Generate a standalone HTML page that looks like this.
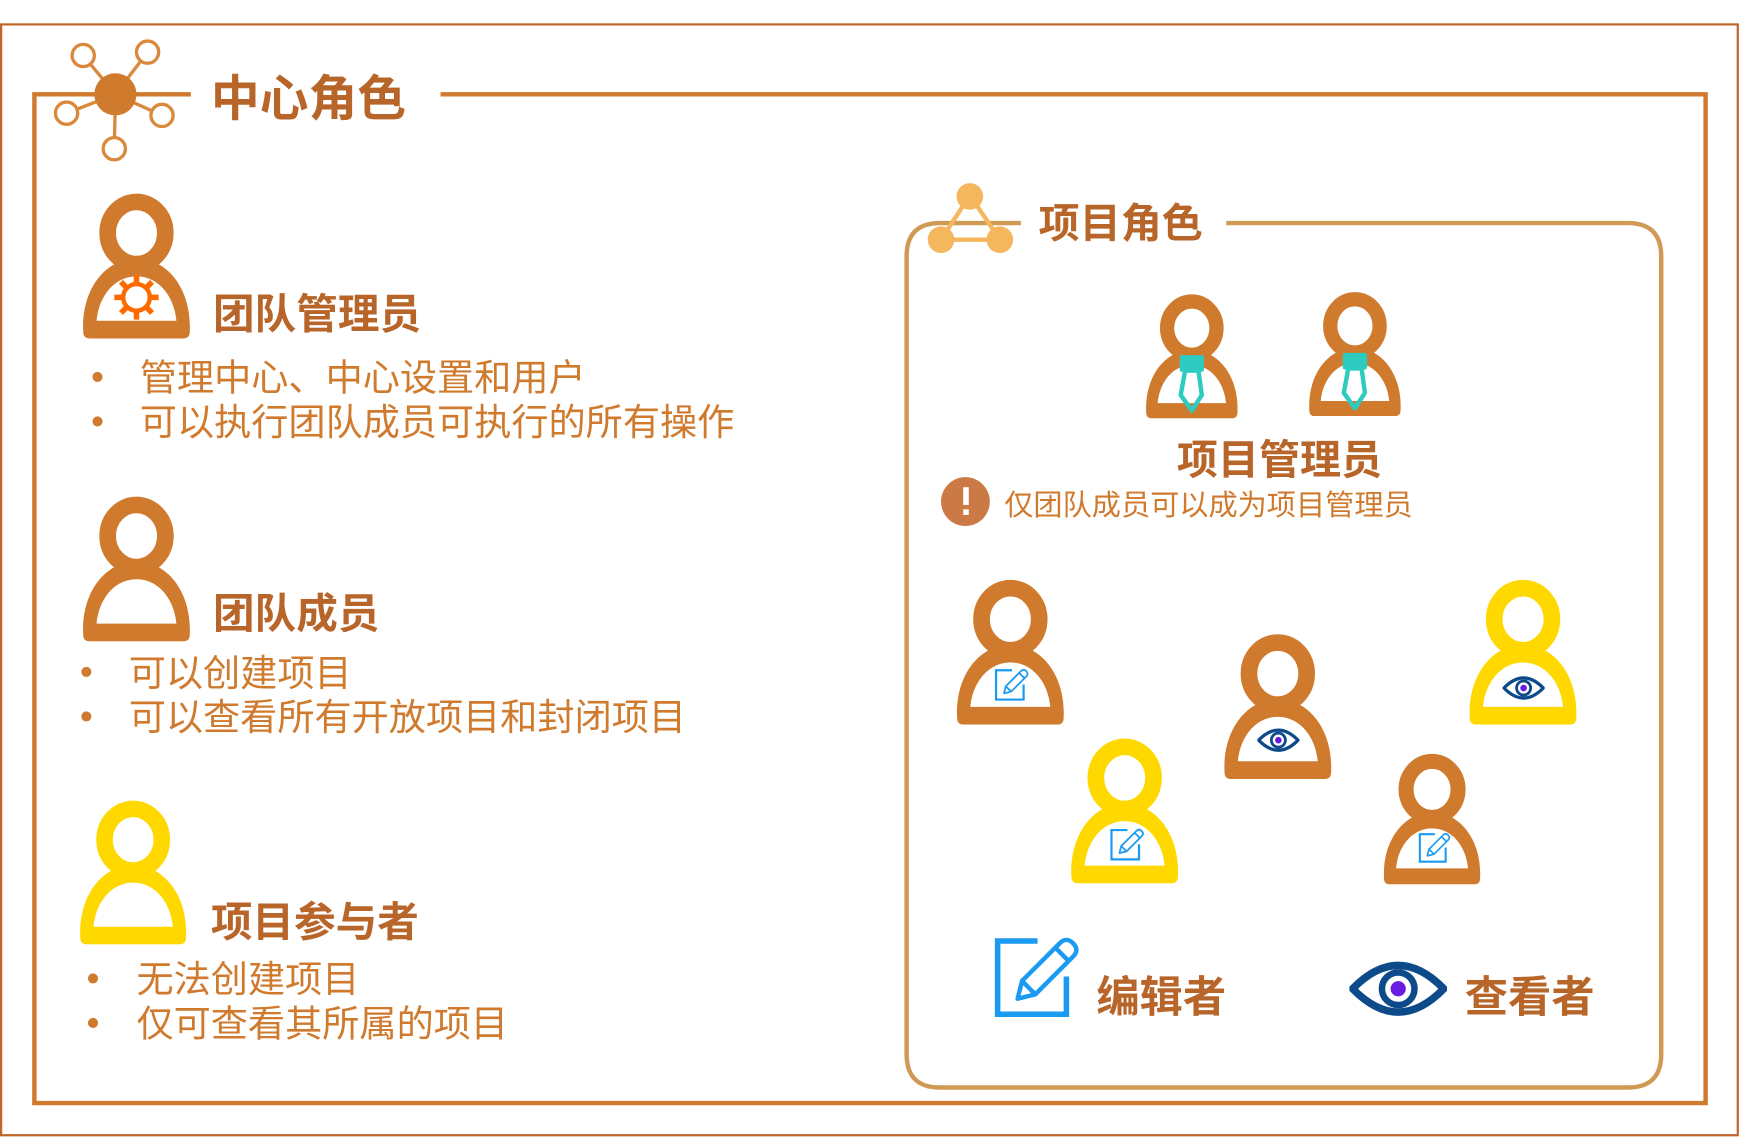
<!DOCTYPE html>
<html><head><meta charset="utf-8"><style>
html,body{margin:0;padding:0;background:#fff;}
svg{display:block;}
text{font-family:"Liberation Sans","Noto Sans CJK SC",sans-serif;}
</style></head><body>
<svg width="1740" height="1137" viewBox="0 0 1568 1024.6" preserveAspectRatio="none" xmlns="http://www.w3.org/2000/svg">
<defs>
<symbol id="p" viewBox="0 0 100 132">
<ellipse cx="50" cy="37" rx="26" ry="28" fill="none" stroke="currentColor" stroke-width="15"/>
<path fill-rule="evenodd" fill="currentColor" d="M2,126 C0,88 22,60 50,60 C78,60 100,88 98,126 Q98,132 92,132 L8,132 Q2,132 2,126Z M14,116 C16,94 30,76 50,76 C70,76 84,94 86,116Z"/>
</symbol>
<symbol id="pen" viewBox="0 0 80 80">
<path d="M40,10 H4 V76 H66 V42" fill="none" stroke="currentColor" stroke-width="5"/>
<path d="M22,62 L26,46 L60,12 Q66,6 72,12 Q78,18 72,24 L38,58 Z M26,46 L38,58 M56,16 L68,28" fill="none" stroke="currentColor" stroke-width="4" stroke-linejoin="round"/>
</symbol>
<symbol id="eye" viewBox="0 0 90 50">
<path d="M3,25 Q45,-18 87,25 Q45,68 3,25Z" fill="none" stroke="#0d4a8a" stroke-width="7"/>
<circle cx="45" cy="25" r="15" fill="none" stroke="#0d4a8a" stroke-width="6"/>
<circle cx="45" cy="25" r="7" fill="#6a1be0"/>
</symbol>
</defs>
<rect x="1" y="22" width="1565" height="1001" fill="none" stroke="#c0652a" stroke-width="2"/>
<path d="M172,85 H31 V994 H1537 V85 H397" fill="none" stroke="#d07a2e" stroke-width="4"/>
<g stroke="#d9883c" stroke-width="3" fill="#fff">
<line x1="104" y1="85" x2="75" y2="50"/><line x1="104" y1="85" x2="133" y2="47"/><line x1="104" y1="85" x2="60" y2="102"/><line x1="104" y1="85" x2="146" y2="104"/><line x1="104" y1="85" x2="103" y2="134"/>
<circle cx="75" cy="50" r="10"/><circle cx="133" cy="47" r="10"/><circle cx="60" cy="102" r="10"/><circle cx="146" cy="104" r="10"/><circle cx="103" cy="134" r="10"/>
</g>
<circle cx="104" cy="85" r="19" fill="#d07a2e"/>
<text x="190" y="104" font-size="44" font-weight="bold" fill="#b8652a">中心角色</text>

<use href="#p" x="73" y="173" width="100" height="132" color="#d07a2e"/>
<g transform="translate(123,268)">
<g stroke="#ff6a00" stroke-width="5">
<line x1="0" y1="-20" x2="0" y2="20"/><line x1="-20" y1="0" x2="20" y2="0"/><line x1="-14" y1="-14" x2="14" y2="14"/><line x1="-14" y1="14" x2="14" y2="-14"/></g>
<circle r="12" fill="#fff" stroke="#ff6a00" stroke-width="4"/>
</g>
<text x="192" y="296" font-size="37.5" font-weight="bold" fill="#b8652a">团队管理员</text>
<g font-size="33.5" fill="#d07a2e">
<text x="82" y="351">•</text><text x="126" y="352">管理中心、中心设置和用户</text>
<text x="82" y="391">•</text><text x="126" y="392">可以执行团队成员可执行的所有操作</text>
</g>

<use href="#p" x="73" y="446" width="100" height="132" color="#d07a2e"/>
<text x="192" y="566" font-size="37.5" font-weight="bold" fill="#b8652a">团队成员</text>
<g font-size="33.5" fill="#d07a2e">
<text x="72" y="617">•</text><text x="116" y="618">可以创建项目</text>
<text x="72" y="657">•</text><text x="116" y="658">可以查看所有开放项目和封闭项目</text>
</g>

<use href="#p" x="70" y="720" width="100" height="131" color="#ffd800"/>
<text x="190" y="844" font-size="37.5" font-weight="bold" fill="#b8652a">项目参与者</text>
<g font-size="33.5" fill="#d07a2e">
<text x="78" y="893">•</text><text x="123" y="894">无法创建项目</text>
<text x="78" y="933">•</text><text x="123" y="934">仅可查看其所属的项目</text>
</g>

<path d="M920,201 H847 Q817,201 817,231 V950 Q817,980 847,980 H1467 Q1497,980 1497,950 V231 Q1497,201 1467,201 H1105" fill="none" stroke="#d09a55" stroke-width="4"/>
<g stroke="#f5b75e" stroke-width="4"><line x1="874" y1="176" x2="848" y2="216"/><line x1="874" y1="176" x2="901" y2="216"/><line x1="848" y1="216" x2="901" y2="216"/></g>
<g fill="#f5b75e"><circle cx="874" cy="177" r="12"/><circle cx="848" cy="216" r="12"/><circle cx="901" cy="216" r="12"/></g>
<text x="936" y="214" font-size="37" font-weight="bold" fill="#b8652a">项目角色</text>

<use href="#p" x="1031" y="264" width="86" height="113" color="#d07a2e"/>
<use href="#p" x="1178" y="262" width="86" height="113" color="#d07a2e"/>
<g fill="none" stroke="#2ecbc0" stroke-width="4" stroke-linejoin="round">
<path d="M1068,334 L1064,356 L1074,370 L1083,356 L1080,334Z"/>
<path d="M1215,332 L1211,354 L1221,368 L1230,354 L1227,332Z"/>
</g>
<rect x="1063" y="320" width="22" height="15" rx="2" fill="#2ecbc0"/>
<rect x="1210" y="318" width="22" height="15" rx="2" fill="#2ecbc0"/>
<text x="1153" y="427" font-size="37" font-weight="bold" fill="#b8652a" text-anchor="middle">项目管理员</text>
<circle cx="870" cy="452" r="22" fill="#cc7a45"/>
<rect x="868" y="439" width="5" height="16" fill="#fff"/><rect x="868" y="459" width="5" height="5" fill="#fff"/>
<text x="905" y="464" font-size="26.3" fill="#d07a2e">仅团队成员可以成为项目管理员</text>

<use href="#p" x="860" y="521" width="101" height="132" color="#d07a2e"/>
<use href="#pen" x="896" y="600" width="32" height="32" color="#1a9af0"/>
<use href="#p" x="1101" y="570" width="101" height="132" color="#d07a2e"/>
<use href="#eye" x="1133" y="656" width="38" height="22"/>
<use href="#p" x="1322" y="521" width="101" height="132" color="#ffd800"/>
<use href="#eye" x="1354" y="609" width="38" height="22"/>
<use href="#p" x="963" y="664" width="101" height="132" color="#ffd800"/>
<use href="#pen" x="1000" y="744" width="32" height="32" color="#1a9af0"/>
<use href="#p" x="1245" y="678" width="91" height="119" color="#d07a2e"/>
<use href="#pen" x="1278" y="748" width="30" height="30" color="#1a9af0"/>

<use href="#pen" x="895" y="838" width="80" height="80" color="#1a9af0"/>
<text x="988" y="912" font-size="39" font-weight="bold" fill="#b8652a">编辑者</text>
<use href="#eye" x="1216" y="866" width="88" height="50"/>
<text x="1320" y="912" font-size="39" font-weight="bold" fill="#b8652a">查看者</text>
</svg>
</body></html>
